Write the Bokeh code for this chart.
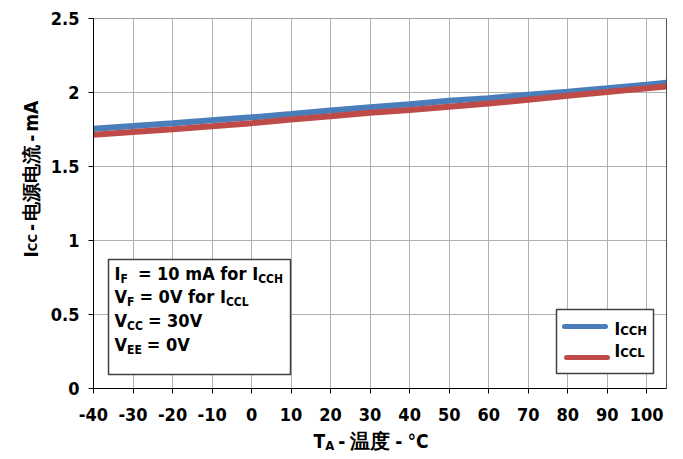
import math
from bokeh.plotting import figure
from bokeh.models import FixedTicker, CustomJSTickFormatter, Span, Range1d
from bokeh.core.properties import value
from bokeh.embed import file_html
from bokeh.resources import INLINE

# ---- data ----
temp = [-40, -30, -20, -10, 0, 10, 20, 30, 40, 50, 60, 70, 80, 90, 100, 105]
icch = [1.755, 1.773, 1.792, 1.812, 1.832, 1.854, 1.879, 1.901, 1.921, 1.944,
        1.962, 1.985, 2.005, 2.028, 2.052, 2.066]
iccl = [1.714, 1.733, 1.752, 1.772, 1.793, 1.818, 1.840, 1.863, 1.881, 1.904,
        1.926, 1.951, 1.978, 2.003, 2.028, 2.040]
x_ticks = [-40, -30, -20, -10, 0, 10, 20, 30, 40, 50, 60, 70, 80, 90, 100]
y_ticks = [0, 0.5, 1, 1.5, 2, 2.5]

BLUE = "#4a7ebb"
RED = "#be4b48"
FONT = "DejaVu Sans Condensed"

# ---- frame geometry (pixels) ----
L, R, T, B = 93, 666, 18, 388
XMIN, XMAX, YMIN, YMAX = -40, 105, 0, 2.5
FIX = 7  # baseline correction


def px2x(px):
    return XMIN + (px - L) * (XMAX - XMIN) / (R - L)


def py2y(py):
    return YMIN + (B - py) * (YMAX - YMIN) / (B - T)


p = figure(frame_width=R - L, frame_height=B - T,
           x_range=Range1d(XMIN, XMAX), y_range=Range1d(YMIN, YMAX),
           min_border_left=L, min_border_right=683 - R,
           min_border_top=T, min_border_bottom=459 - B,
           output_backend="svg", toolbar_location=None,
           background_fill_color="white", border_fill_color="white")

p.outline_line_color = "#a0a0a0"
for ax in (p.xaxis[0], p.yaxis[0]):
    ax.axis_line_color = "black"
    ax.major_tick_line_color = "black"
    ax.major_tick_out = 5
    ax.major_tick_in = 0
    ax.minor_tick_line_color = None
    ax.major_label_text_font = FONT
    ax.major_label_text_font_style = "bold"
    ax.major_label_text_font_size = "18px"
    ax.major_label_text_color = "black"

p.xaxis.ticker = FixedTicker(ticks=x_ticks)
p.yaxis.ticker = FixedTicker(ticks=y_ticks)
p.xgrid.ticker = FixedTicker(ticks=x_ticks)
p.ygrid.ticker = FixedTicker(ticks=y_ticks)
p.yaxis.formatter = CustomJSTickFormatter(code="return String(tick);")
p.xaxis.formatter = CustomJSTickFormatter(code="return String(tick);")
p.xaxis.major_label_standoff = 14
p.yaxis.major_label_standoff = 9
p.xgrid.grid_line_color = "#b0b0b0"
p.ygrid.grid_line_color = "#b0b0b0"

p.add_layout(Span(location=XMAX, dimension="height", line_color="black", line_width=1))

# ---- series ----
p.line(temp, icch, line_color=BLUE, line_width=6, line_cap="round")
p.line(temp, iccl, line_color=RED, line_width=6, line_cap="round")

# ---- text helpers ----
W = {' ': 0.348, '-': 0.415, '.': 0.381, '=': 0.838, '°': 0.5, 'A': 0.774,
     'C': 0.734, 'E': 0.683, 'F': 0.683, 'H': 0.837, 'I': 0.372, 'L': 0.637,
     'T': 0.684, 'V': 0.774, 'm': 1.042, 'f': 0.435, 'o': 0.687, 'r': 0.493,
     'a': 0.675}


def measure(txt, size):
    tot = 0.0
    for ch in txt:
        if ch.isdigit():
            tot += 0.696 * 0.9
        elif ord(ch) > 0x2E80:
            tot += 1.0
        else:
            tot += W.get(ch, 0.6) * 0.9
    return tot * size


def seq(x_px, y_px, segs, angle=0.0, anchor=None):
    """Place text segments; baseline start at (x_px, y_px) in canvas px.
    Leading/trailing spaces become advances (SVG drops them).
    If anchor (px) is given, the glyph is anchored there (inside the frame)
    and moved out with pixel offsets."""
    pos = 0.0
    for txt, size, shift in segs:
        if txt is None:
            pos += size
            continue
        core = txt.strip(" ")
        lead = len(txt) - len(txt.lstrip(" "))
        trail = len(txt) - len(txt.rstrip(" "))
        pos += measure(" " * lead, size)
        if angle == 0:
            tx, ty = x_px + pos, y_px + shift - FIX
        else:
            tx, ty = x_px + shift - FIX, y_px - pos
        if anchor is None:
            ax_, ay_ = tx, ty
        else:
            ax_, ay_ = anchor
        p.text(x=[px2x(ax_)], y=[py2y(ay_)], text=[core],
               x_offset=tx - ax_, y_offset=ty - ay_,
               text_font=value(FONT), text_font_size=value(f"{size}px"),
               text_font_style="bold", text_color="black", angle=angle,
               text_align="left", text_baseline="alphabetic", level="overlay")
        pos += measure(core, size) + measure(" " * trail, size)


# ---- axis titles ----
seq(313, 447, [("T", 19, 0), ("A", 13, 5), (None, 4, 0), ("-", 19, 0),
               (None, 5, 0), ("温度", 20, 0), (None, 5, 0), ("-", 19, 0),
               (None, 5, 0), ("°C", 19, 0)],
    anchor=(330, 380))
seq(37, 257, [("I", 19, 0), ("CC", 13, 2), (None, 3, 0), ("-", 19, 0),
              (None, 3, 0), ("电源电流", 19, 0), (None, 3, 0), ("-", 19, 0),
              (None, 3, 0), ("mA", 19, 0)],
    angle=math.pi / 2, anchor=(100, 200))

# ---- condition box ----
p.quad(left=px2x(108), right=px2x(290), top=py2y(259), bottom=py2y(374),
       fill_color="white", line_color="#404040", line_width=1.5)
M, S, D = 18, 12, 5
seq(114, 280, [("I", M, 0), ("F", S, D), (None, 10, 0), ("= 10 mA for ", M, 0),
               ("I", M, 0), ("CCH", S, D)])
seq(114, 303, [("V", M, 0), ("F", S, D), (None, 5, 0), ("= 0V for ", M, 0),
               ("I", M, 0), ("CCL", S, D)])
seq(114, 327, [("V", M, 0), ("CC", S, D), (None, 5, 0), ("= 30V", M, 0)])
seq(114, 351, [("V", M, 0), ("EE", S, D), (None, 5, 0), ("= 0V", M, 0)])

# ---- legend ----
p.quad(left=px2x(556), right=px2x(653), top=py2y(309), bottom=py2y(373),
       fill_color="white", line_color="#404040", line_width=1.5)
p.line([px2x(564), px2x(605)], [py2y(326), py2y(326)], line_color=BLUE,
       line_width=5, line_cap="round")
p.line([px2x(566), px2x(607)], [py2y(357), py2y(357)], line_color=RED,
       line_width=5, line_cap="round")
seq(614, 335, [("I", 17, 0), ("CCH", 13, 2)])
seq(614, 357, [("I", 17, 0), ("CCL", 13, 2)])

open("out.html", "w").write(file_html(p, INLINE))
